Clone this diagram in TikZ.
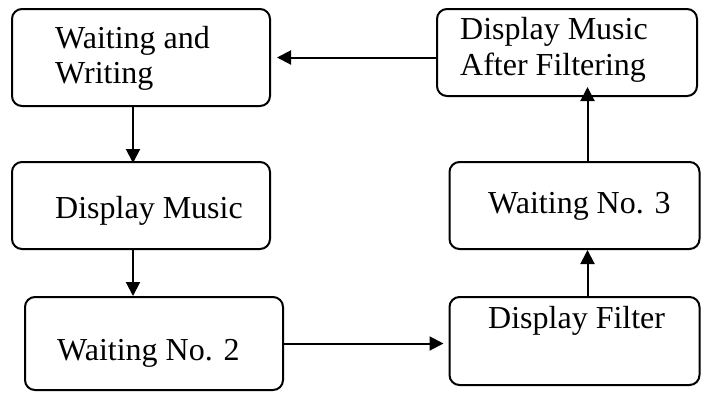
\documentclass[tikz,border=0pt]{standalone}
\usepackage{fontspec}
\setmainfont{Liberation Serif}
\usetikzlibrary{arrows.meta}
\begin{document}
\begin{tikzpicture}[x=1pt,y=-1pt,
  box/.style={draw=black, line width=2pt, rounded corners=10pt, inner sep=0pt},
  lbl/.style={anchor=base west, inner sep=0pt, font=\fontsize{32}{37}\selectfont},
  arr/.style={line width=2pt, -{Triangle[length=14pt,width=14pt]}}]
\useasboundingbox (0,0) rectangle (701,392);
% boxes: centre and size
\node[box, minimum width=258pt, minimum height=97pt] (b1) at (141,57.5) {};
\node[box, minimum width=260pt, minimum height=87pt] (b2) at (567,52.5) {};
\node[box, minimum width=258pt, minimum height=87pt] (b3) at (141,205.5) {};
\node[box, minimum width=258pt, minimum height=93pt] (b4) at (154,343.5) {};
\node[box, minimum width=250pt, minimum height=87pt] (b5) at (574.5,205.5) {};
\node[box, minimum width=250pt, minimum height=88pt] (b6) at (574.5,341) {};
% labels
\node[lbl] (t1a) at (55,48) {Waiting and};
\node[lbl] (t1b) at (55,83) {Writing};
\node[lbl] (t2a) at (460,39) {Display Music};
\node[lbl] (t2b) at (460,75) {After Filtering};
\node[lbl] (t3) at (55,218) {Display Music};
\node[lbl] (t4) at (57,360) {Waiting No. 2};
\node[lbl] (t5) at (488,213) {Waiting No. 3};
\node[lbl] (t6) at (488,328) {Display Filter};
% connectors
\draw[arr] (b2.west |- b1.east) -- ([xshift=6pt]b1.east);
\draw[arr] ([xshift=-8pt]b1.south) -- ([xshift=-8pt,yshift=-2pt]b3.north);
\draw[arr] ([xshift=-8pt]b3.south) -- ([xshift=-8pt]b3.south |- b4.north);
\draw[arr] (b4.east) -- ([xshift=-5pt]b6.west |- b4.east);
\draw[arr] ([xshift=13pt]b6.north) -- ([xshift=13pt]b5.south);
\draw[arr] ([xshift=13pt]b5.north) -- ([xshift=13pt,yshift=10pt]b5.north |- b2.south);
\end{tikzpicture}
\end{document}
